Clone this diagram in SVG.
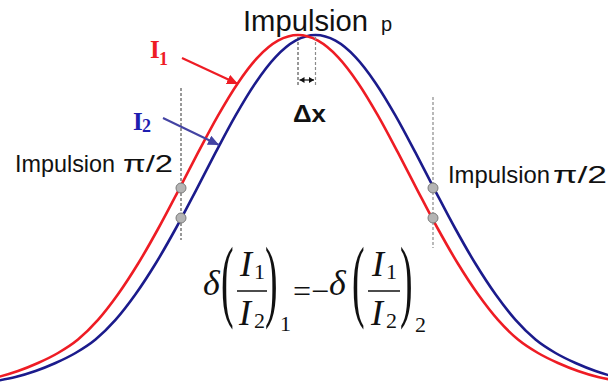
<svg xmlns="http://www.w3.org/2000/svg" xmlns:xlink="http://www.w3.org/1999/xlink" width="608" height="388" viewBox="0 0 608 388">
<style>
.curve{fill:none;stroke-width:2.6}
.sans{font-family:"Liberation Sans",Arial,sans-serif;fill:#111}
.ser{font-family:"Liberation Serif","Times New Roman",serif;fill:#111}
.it{font-style:italic}
.dot{fill:#b4b4b4;stroke:#7a7a7a;stroke-width:1}
.dashd{stroke:#333;stroke-width:1;stroke-dasharray:3 2}
.dashg{stroke:#8a8a8a;stroke-width:1.2;stroke-dasharray:3 2}
</style>
<defs>
<path id="bell" d="M -340 384 C -333.33 383.17 -326.67 382.17 -320 381 C -313.33 379.83 -306.67 378.67 -300 377 C -293.33 375.33 -286.67 373.33 -280 371 C -273.33 368.67 -266.67 366 -260 363 C -253.33 360 -246.67 356.92 -240 353 C -233.33 349.08 -226.67 345.02 -220 339.5 C -213.33 333.98 -206.67 327.43 -200 319.9 C -193.33 312.37 -186.67 303.65 -180 294.3 C -173.33 284.95 -166.67 274.68 -160 263.8 C -153.33 252.92 -146.67 241.08 -140 229 C -133.33 216.92 -126.67 204.02 -120 191.3 C -113.33 178.58 -106.67 165.32 -100 152.7 C -93.33 140.08 -86.67 127.23 -80 115.6 C -73.33 103.97 -66.67 92.65 -60 82.9 C -53.33 73.15 -46.67 64.13 -40 57.1 C -33.33 50.07 -26.67 44.38 -20 40.7 C -13.33 37.02 -6.67 35 0 35 C 6.67 35 13.33 37.02 20 40.7 C 26.67 44.38 33.33 50.07 40 57.1 C 46.67 64.13 53.33 73.15 60 82.9 C 66.67 92.65 73.33 103.97 80 115.6 C 86.67 127.23 93.33 140.08 100 152.7 C 106.67 165.32 113.33 178.58 120 191.3 C 126.67 204.02 133.33 216.92 140 229 C 146.67 241.08 153.33 252.92 160 263.8 C 166.67 274.68 173.33 284.95 180 294.3 C 186.67 303.65 193.33 312.37 200 319.9 C 206.67 327.43 213.33 333.98 220 339.5 C 226.67 345.02 233.33 349.08 240 353 C 246.67 356.92 253.33 360 260 363 C 266.67 366 273.33 368.67 280 371 C 286.67 373.33 293.33 375.33 300 377 C 306.67 378.67 313.33 379.83 320 381 C 326.67 382.17 333.33 383.17 340 384"/>
<marker id="ahR" markerUnits="userSpaceOnUse" markerWidth="12" markerHeight="10" refX="11" refY="5" orient="auto"><path d="M0,0 L11,5 L0,10 Z" fill="#ee1c24"/></marker>
<marker id="ahB" markerUnits="userSpaceOnUse" markerWidth="12" markerHeight="10" refX="11" refY="5" orient="auto"><path d="M0,0 L11,5 L0,10 Z" fill="#4343a3"/></marker>
<marker id="ahK" markerUnits="userSpaceOnUse" markerWidth="6" markerHeight="6" refX="5" refY="3" orient="auto-start-reverse"><path d="M0,0 L5,3 L0,6 Z" fill="#111"/></marker>
</defs>

<g id="curves">
<use id="curve-I2" xlink:href="#bell" href="#bell" transform="translate(315.5,0)" class="curve" stroke="#1b1b8c"/>
<use id="curve-I1" xlink:href="#bell" href="#bell" transform="translate(298,0)" class="curve" stroke="#ee1c24"/>
</g>

<g id="connectors">
<line class="dashd" x1="181" y1="88" x2="181" y2="240"/>
<line class="dashg" x1="433" y1="97" x2="433" y2="248"/>
<line class="dashd" x1="298" y1="37" x2="298" y2="87"/>
<line class="dashg" x1="315.5" y1="37" x2="315.5" y2="87"/>
<line x1="299.5" y1="80" x2="314" y2="80" stroke="#111" stroke-width="1.2" marker-start="url(#ahK)" marker-end="url(#ahK)"/>
<line x1="182" y1="58" x2="238" y2="84" stroke="#ee1c24" stroke-width="2.2" marker-end="url(#ahR)"/>
<line x1="163" y1="118" x2="219" y2="145" stroke="#4343a3" stroke-width="2" marker-end="url(#ahB)"/>
</g>

<g id="points">
<circle class="dot" cx="181" cy="188" r="5"/>
<circle class="dot" cx="181" cy="218" r="5"/>
<circle class="dot" cx="433" cy="188" r="5"/>
<circle class="dot" cx="433" cy="218" r="5"/>
</g>

<g id="label-top">
<text class="sans" x="243" y="31" font-size="29" textLength="125" lengthAdjust="spacingAndGlyphs">Impulsion</text>
<text class="sans" x="381" y="31" font-size="20">p</text>
</g>
<g id="label-dx">
<text class="sans" x="293" y="122" font-size="23" font-weight="bold" textLength="33" lengthAdjust="spacingAndGlyphs">Δx</text>
</g>
<g id="label-left">
<text class="sans" x="15" y="172" font-size="24.5" textLength="100" lengthAdjust="spacingAndGlyphs">Impulsion</text>
<text class="sans" x="123" y="172" font-size="24.5" textLength="50" lengthAdjust="spacingAndGlyphs">π/2</text>
</g>
<g id="label-right">
<text class="sans" x="448" y="183" font-size="24.5" textLength="102" lengthAdjust="spacingAndGlyphs">Impulsion</text>
<text class="sans" x="553" y="183" font-size="24.5" textLength="54" lengthAdjust="spacingAndGlyphs">π/2</text>
</g>
<g id="label-I1">
<text class="ser" x="150" y="58" font-size="25" font-weight="bold" style="fill:#ee1c24">I</text>
<text class="ser" x="159" y="65" font-size="18" font-weight="bold" style="fill:#ee1c24">1</text>
</g>
<g id="label-I2">
<text class="ser" x="133" y="130" font-size="25" font-weight="bold" style="fill:#1e1eb0">I</text>
<text class="ser" x="142" y="132" font-size="18" font-weight="bold" style="fill:#1e1eb0">2</text>
</g>

<g id="formula">
<text class="ser it" x="203" y="295" font-size="36">δ</text>
<text class="ser" font-size="90" transform="translate(221,310) scale(0.42,1)">(</text>
<text class="ser it" x="240" y="276" font-size="36">I</text>
<text class="ser" x="254" y="279" font-size="22">1</text>
<line x1="237" y1="291" x2="267" y2="291" stroke="#111" stroke-width="1.5"/>
<text class="ser it" x="239" y="325" font-size="36">I</text>
<text class="ser" x="254" y="328" font-size="22">2</text>
<text class="ser" font-size="90" transform="translate(265,310) scale(0.42,1)">)</text>
<text class="ser" x="280" y="331" font-size="22">1</text>
<text class="ser" x="293" y="302" font-size="32">=</text>
<text class="ser" x="311" y="302" font-size="32">−</text>
<text class="ser it" x="329" y="295" font-size="36">δ</text>
<text class="ser" font-size="90" transform="translate(352,310) scale(0.42,1)">(</text>
<text class="ser it" x="372" y="276" font-size="36">I</text>
<text class="ser" x="386" y="279" font-size="22">1</text>
<line x1="368" y1="291" x2="400" y2="291" stroke="#111" stroke-width="1.5"/>
<text class="ser it" x="371" y="325" font-size="36">I</text>
<text class="ser" x="386" y="328" font-size="22">2</text>
<text class="ser" font-size="90" transform="translate(400,310) scale(0.42,1)">)</text>
<text class="ser" x="415" y="332" font-size="22">2</text>
</g>
</svg>
